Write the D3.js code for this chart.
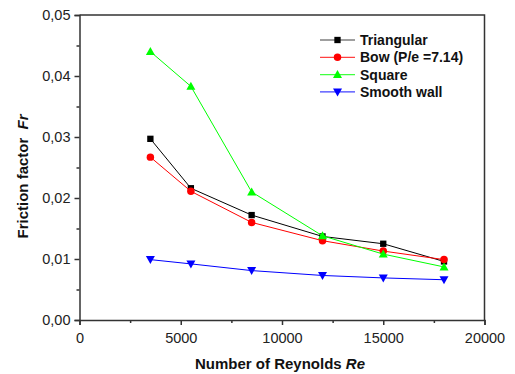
<!DOCTYPE html>
<html>
<head>
<meta charset="utf-8">
<script src="https://cdn.jsdelivr.net/npm/d3@7"></script>
<style>
  html, body { margin: 0; padding: 0; background: #fff; }
  svg { display: block; font-family: "Liberation Sans", Arial, sans-serif; }
</style>
</head>
<body>
<svg id="chart" width="515" height="374"></svg>
<script>
// Reynolds numbers measured
const reynolds = [3500, 5500, 8500, 12000, 15000, 18000];

// Friction factor per rib geometry
const triangular = [0.0297, 0.0216, 0.0172, 0.0137, 0.0125, 0.0096];
const bow        = [0.0267, 0.0211, 0.0160, 0.0130, 0.0113, 0.0099];
const square     = [0.0440, 0.0383, 0.0210, 0.0138, 0.0108, 0.0087];
const smooth     = [0.0099, 0.0092, 0.0081, 0.0073, 0.0069, 0.0066];

const seriesNames = ["Triangular", "Bow (P/e =7.14)", "Square", "Smooth wall"];
const seriesColors = ["#000000", "#ff0000", "#00ff00", "#0000ff"];
const seriesShapes = ["square", "circle", "triUp", "triDown"];

const xTicks = [0, 5000, 10000, 15000, 20000];
const yTicks = [0, 0.01, 0.02, 0.03, 0.04, 0.05];

const series = [triangular, bow, square, smooth].map((vals, i) => ({
  name: seriesNames[i], color: seriesColors[i], shape: seriesShapes[i],
  points: vals.map((v, j) => ({ x: reynolds[j], y: v }))
}));

const svg = d3.select("#chart");
const plot = { left: 79.5, right: 484.5, top: 15, bottom: 320 };

const x = d3.scaleLinear().domain([0, 20000]).range([plot.left, plot.right]);
const y = d3.scaleLinear().domain([0, 0.05]).range([plot.bottom, plot.top]);

const axisColor = "#333";
const fmtY = v => d3.format(".2f")(v).replace(".", ",");

// frame (top and right)
svg.append("path")
  .attr("d", `M${plot.left},${plot.top}H${plot.right}V${plot.bottom}`)
  .attr("fill", "none").attr("stroke", axisColor).attr("stroke-width", 1.5);

// x axis
const xAxis = svg.append("g").attr("transform", `translate(0,${plot.bottom})`)
  .call(d3.axisBottom(x).tickValues(xTicks).tickFormat(d3.format("d")).tickSizeOuter(0).tickSize(5).tickPadding(8));
const xMinor = svg.append("g").attr("transform", `translate(0,${plot.bottom})`)
  .call(d3.axisBottom(x).tickValues([2500, 7500, 12500, 17500]).tickFormat("").tickSizeOuter(0).tickSize(3));
xMinor.select(".domain").remove();

// y axis
const yAxis = svg.append("g").attr("transform", `translate(${plot.left},0)`)
  .call(d3.axisLeft(y).tickValues(yTicks).tickFormat(fmtY).tickSizeOuter(0).tickSize(5).tickPadding(4));
const yMinor = svg.append("g").attr("transform", `translate(${plot.left},0)`)
  .call(d3.axisLeft(y).tickValues([0.005, 0.015, 0.025, 0.035, 0.045]).tickFormat("").tickSizeOuter(0).tickSize(3));
yMinor.select(".domain").remove();

[xAxis, xMinor, yAxis, yMinor].forEach(g => {
  g.selectAll(".domain, line").attr("stroke", axisColor).attr("stroke-width", 1.5);
  g.selectAll("text").attr("font-size", 14.5).attr("fill", "#222")
    .attr("font-family", "'Liberation Sans', Arial, sans-serif");
});

// axis titles
const xTitle = svg.append("text")
  .attr("x", 280).attr("y", 369).attr("text-anchor", "middle")
  .attr("font-size", 15).attr("font-weight", "bold").attr("fill", "#111");
xTitle.append("tspan").text("Number of Reynolds ");
xTitle.append("tspan").attr("font-style", "italic").text("Re");

const yTitle = svg.append("text")
  .attr("transform", "translate(28,176.5) rotate(-90)").attr("text-anchor", "middle")
  .attr("font-size", 15).attr("font-weight", "bold").attr("fill", "#111");
yTitle.append("tspan").text("Friction factor ");
yTitle.append("tspan").attr("font-style", "italic").attr("dx", 4).text("Fr");

// marker shapes
function markerPath(shape) {
  switch (shape) {
    case "square": return d3.symbol(d3.symbolSquare, 40)();
    case "circle": return d3.symbol(d3.symbolCircle, 44)();
    case "triUp": return "M0,-4.5L4.5,3.5L-4.5,3.5Z";
    case "triDown": return "M0,4.5L4.5,-3.5L-4.5,-3.5Z";
  }
}

const line = d3.line().x(d => x(d.x)).y(d => y(d.y));

series.forEach(s => {
  const g = svg.append("g");
  g.append("path").datum(s.points).attr("d", line)
    .attr("fill", "none").attr("stroke", s.color).attr("stroke-width", 1);
  g.selectAll("path.m").data(s.points).enter().append("path").attr("class", "m")
    .attr("transform", d => `translate(${x(d.x)},${y(d.y)})`)
    .attr("d", markerPath(s.shape)).attr("fill", s.color);
});

// legend
const legend = svg.append("g");
series.forEach((s, i) => {
  const yy = 40 + i * 17.3;
  legend.append("line").attr("x1", 320).attr("x2", 355).attr("y1", yy).attr("y2", yy)
    .attr("stroke", s.color).attr("stroke-width", 1.2).attr("stroke-opacity", 0.75);
  legend.append("path").attr("transform", `translate(337.5,${yy})`)
    .attr("d", markerPath(s.shape)).attr("fill", s.color);
  legend.append("text").attr("x", 360).attr("y", yy).attr("dy", "0.36em")
    .attr("font-size", 14).attr("font-weight", "bold").attr("fill", "#111").text(s.name);
});
</script>
</body>
</html>
